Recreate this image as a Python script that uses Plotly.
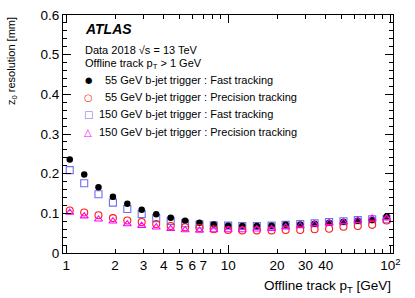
import plotly.graph_objects as go

# bin centres (Offline track pT [GeV])
pt = [1.05, 1.29, 1.58, 1.94, 2.38, 2.92, 3.59, 4.41, 5.41, 6.64, 8.13, 9.98,
      12.2, 15.0, 18.5, 22.6, 27.8, 34.1, 41.9, 51.4, 63.0, 77.3, 94.9]

fast55 = [0.236, 0.198, 0.166, 0.142, 0.124, 0.109, 0.098, 0.089, 0.081, 0.076,
          0.072, 0.069, 0.068, 0.068, 0.069, 0.071, 0.072, 0.074, 0.076, 0.079,
          0.081, 0.083, 0.092]
prec55 = [0.107, 0.102, 0.095, 0.088, 0.082, 0.078, 0.073, 0.068, 0.065, 0.063,
          0.060, 0.058, 0.057, 0.057, 0.057, 0.058, 0.058, 0.060, 0.061, 0.066,
          0.068, 0.071, 0.082]
fast150 = [0.209, 0.176, 0.148, 0.127, 0.111, 0.098, 0.088, 0.081, 0.075, 0.072,
           0.070, 0.069, 0.068, 0.068, 0.069, 0.071, 0.073, 0.075, 0.078, 0.080,
           0.083, 0.085, 0.085]
prec150 = [0.102, 0.093, 0.085, 0.080, 0.073, 0.069, 0.065, 0.061, 0.058, 0.057,
           0.058, 0.058, 0.058, 0.060, 0.061, 0.065, 0.068, 0.073, 0.076, 0.078,
           0.082, 0.087, 0.088]

series_names = ["55 GeV b-jet trigger : Fast tracking",
                "55 GeV b-jet trigger : Precision tracking",
                "150 GeV b-jet trigger : Fast tracking",
                "150 GeV b-jet trigger : Precision tracking"]

x_tickvals = [1, 2, 3, 4, 5, 6, 7, 10, 20, 30, 40, 100]
x_ticktext = ["1", "2", "3", "4", "5", "6", "7", "10", "20", "30", "40",
              "10<sup>2</sup>"]
x_minor = [8, 9, 50, 60, 70, 80, 90]
x_major = [1, 10, 100]

FONT = "Liberation Sans, Arial, sans-serif"
BLUE = "#6f6ff2"
RED = "#ff1a1a"
MAG = "#ff00ff"

fig = go.Figure()

fig.add_trace(go.Scatter(x=pt, y=fast150, mode="markers", name=series_names[2],
                         marker=dict(symbol="square-open", size=7, color=BLUE,
                                     line=dict(width=1.1, color=BLUE))))
fig.add_trace(go.Scatter(x=pt, y=fast55, mode="markers", name=series_names[0],
                         marker=dict(symbol="circle", size=6.5, color="black")))
fig.add_trace(go.Scatter(x=pt, y=prec55, mode="markers", name=series_names[1],
                         marker=dict(symbol="circle-open", size=7, color=RED,
                                     line=dict(width=1.1, color=RED))))
fig.add_trace(go.Scatter(x=pt, y=prec150, mode="markers", name=series_names[3],
                         marker=dict(symbol="triangle-up-open", size=7, color=MAG,
                                     line=dict(width=1.1, color=MAG))))
# carrier for the long-tick overlay axis
fig.add_trace(go.Scatter(x=[], y=[], xaxis="x2", showlegend=False, hoverinfo="skip"))

xr = [-0.0204, 2.0167]
fig.update_layout(
    width=415, height=298,
    margin=dict(l=63, r=22, t=15, b=45),
    paper_bgcolor="white", plot_bgcolor="white",
    font=dict(family=FONT, color="black", size=13),
    showlegend=False,
    xaxis=dict(type="log", range=xr, showgrid=False, zeroline=False,
               showline=True, linecolor="black", linewidth=1, mirror="ticks",
               ticks="inside", ticklen=4, tickwidth=1, tickcolor="black",
               tickmode="array", tickvals=x_tickvals, ticktext=x_ticktext,
               tickfont=dict(size=13.5), automargin=False,
               minor=dict(tickmode="array", tickvals=x_minor, ticks="inside",
                          ticklen=4, tickcolor="black", showgrid=False)),
    xaxis2=dict(type="log", range=xr, overlaying="x", anchor="y", side="bottom",
                showgrid=False, zeroline=False, showline=False, mirror="ticks",
                ticks="inside", ticklen=8, tickwidth=1, tickcolor="black",
                tickmode="array", tickvals=x_major, showticklabels=False,
                automargin=False),
    yaxis=dict(range=[0, 0.6], showgrid=False, zeroline=False,
               showline=True, linecolor="black", linewidth=1, mirror="ticks",
               ticks="inside", ticklen=8, tickwidth=1, tickcolor="black",
               dtick=0.1, tick0=0, tickfont=dict(size=13.5), automargin=False,
               minor=dict(dtick=0.02, ticklen=4, ticks="inside", tickcolor="black")),
)

def px(xp):
    return (xp - 63) / 330.0

def py(yp):
    return (253 - yp) / 238.0

ann = [
    dict(text="<b><i>ATLAS</i></b>", x=px(83), y=py(29), font=dict(size=14)),
    dict(text="Data 2018 \u221as = 13 TeV", x=px(83), y=py(49.5), font=dict(size=11)),
    dict(text="Offline track p<sub>T</sub> > 1 GeV", x=px(83), y=py(63.5), font=dict(size=11)),
]
for a in ann:
    fig.add_annotation(xref="paper", yref="paper", xanchor="left", yanchor="middle",
                       showarrow=False, **a)

# legend (text keys)
leg_rows = [80, 97, 114.5, 132]
leg_sym = [("\u25cf", "black", 8.5), ("\u25cb", RED, 10), ("\u25a1", BLUE, 10),
           ("\u25b3", MAG, 10)]
leg_text_x = [103, 103, 97, 97]
for i in range(4):
    fig.add_annotation(xref="paper", yref="paper", x=px(88), y=py(leg_rows[i]),
                       xanchor="center", yanchor="middle", showarrow=False,
                       text=leg_sym[i][0],
                       font=dict(size=leg_sym[i][2], family="DejaVu Sans",
                                 color=leg_sym[i][1]))
    fig.add_annotation(xref="paper", yref="paper", x=px(leg_text_x[i]), y=py(leg_rows[i]),
                       xanchor="left", yanchor="middle", showarrow=False,
                       text=series_names[i], font=dict(size=11))

fig.add_annotation(xref="paper", yref="paper", x=1.0, y=py(286), xanchor="right",
                   yanchor="middle", showarrow=False,
                   text="Offline track p<sub>T</sub> [GeV]", font=dict(size=13.5))
fig.add_annotation(xref="paper", yref="paper", x=px(12), y=1.0, xanchor="center",
                   yanchor="top", showarrow=False, textangle=-90,
                   text="z<sub>0</sub> resolution [mm]", font=dict(size=11))

fig.write_html("out.html", config={"displayModeBar": False},
               post_script="document.body.style.margin='0';document.body.style.padding='0';")
